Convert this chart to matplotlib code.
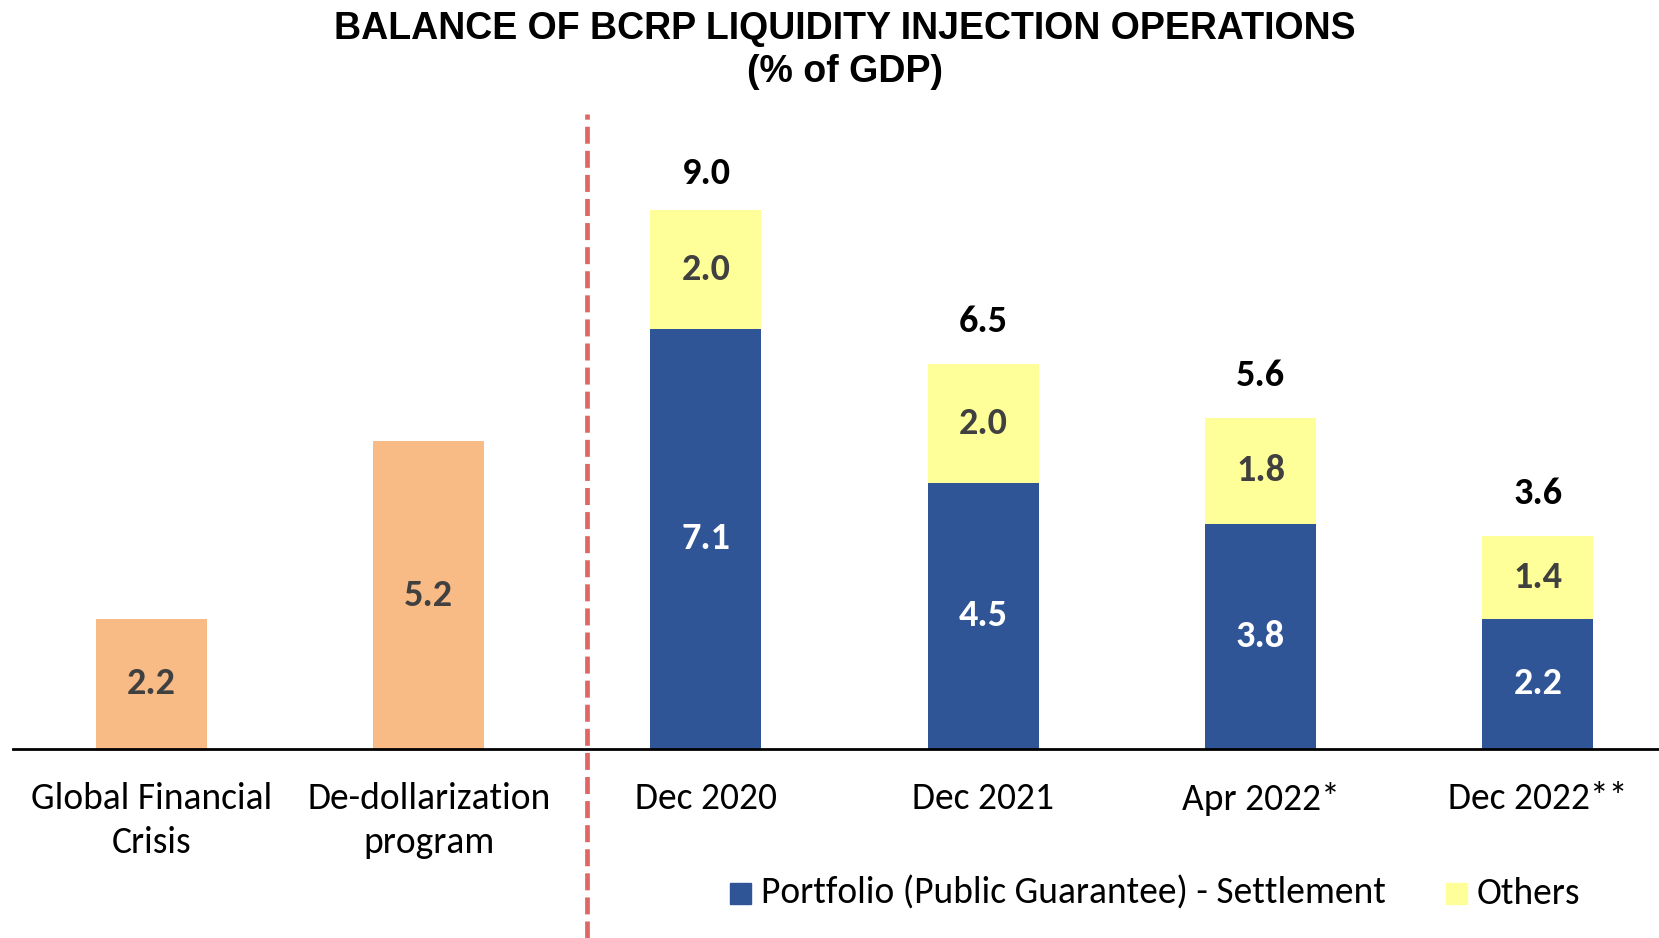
import matplotlib
matplotlib.use("Agg")
import matplotlib.pyplot as plt
from matplotlib.lines import Line2D
from matplotlib.patches import Rectangle
from matplotlib.transforms import blended_transform_factory

categories = ["Global Financial\nCrisis", "De-dollarization\nprogram", "Dec 2020", "Dec 2021", "Apr 2022*", "Dec 2022**"]
historical = [2.2, 5.2, 0, 0, 0, 0]
portfolio = [0, 0, 7.1, 4.5, 3.8, 2.2]
others = [0, 0, 2.0, 2.0, 1.8, 1.4]
totals = [None, None, 9.0, 6.5, 5.6, 3.6]

C_ORANGE = "#F9BB85"
C_BLUE = "#2F5597"
C_YELLOW = "#FFFF99"
TXT_FONT = ["Carlito", "Lato", "DejaVu Sans"]

fig = plt.figure(figsize=(16.59, 9.38), dpi=100)
ax = fig.add_axes([12.7 / 1659, 0.2015, 1 - 12.7 / 1659, 0.6397])
x = list(range(len(categories)))
w = 0.4

hx = [i for i in x if historical[i]]
ax.bar(hx, [historical[i] for i in hx], width=w, color=C_ORANGE, zorder=2)
sx = [i for i in x if portfolio[i]]
ax.bar(sx, [portfolio[i] for i in sx], width=w, color=C_BLUE, zorder=2)
ax.bar(sx, [others[i] for i in sx], width=w, bottom=[portfolio[i] for i in sx], color=C_YELLOW, zorder=2)

LS = 27.5
for i in hx:
    ax.text(i, historical[i] / 2, f"{historical[i]:.1f}", ha="center", va="center",
            fontsize=LS, fontweight="bold", color="#404040", family=TXT_FONT)
for i in sx:
    ax.text(i, portfolio[i] / 2, f"{portfolio[i]:.1f}", ha="center", va="center",
            fontsize=LS, fontweight="bold", color="white", family=TXT_FONT)
    ax.text(i, portfolio[i] + others[i] / 2, f"{others[i]:.1f}", ha="center", va="center",
            fontsize=LS, fontweight="bold", color="#404040", family=TXT_FONT)
    ax.text(i, totals[i] + 0.72, f"{totals[i]:.1f}", ha="center", va="center",
            fontsize=LS, fontweight="bold", color="black", family=TXT_FONT)

ax.set_xlim(-0.5, 5.437)
ax.set_ylim(0, 10.14)
for s in ["top", "right", "left"]:
    ax.spines[s].set_visible(False)
ax.spines["bottom"].set_linewidth(2)
ax.spines["bottom"].set_color("black")
ax.set_yticks([])
ax.set_xticks(x)
ax.set_xticklabels(categories, fontsize=27, family=TXT_FONT, linespacing=1.4)
ax.tick_params(axis="x", length=0, pad=24)

# dashed separator
tr = blended_transform_factory(ax.transData, fig.transFigure)
fig.add_artist(Line2D([1.571, 1.571], [0, 1 - 114 / 938], transform=tr, color="#E06666",
                      lw=3.4, linestyle=(0, (3.6, 1.5)), zorder=5))

# title
fig.text(845 / 1659, 1 - 29 / 938, "BALANCE OF BCRP LIQUIDITY INJECTION OPERATIONS", ha="center", va="center",
         fontsize=27, fontweight="bold", family=["Liberation Sans", "Arial", "DejaVu Sans"])
fig.text(845 / 1659, 1 - 72 / 938, "(% of GDP)", ha="center", va="center",
         fontsize=27, fontweight="bold", family=["Liberation Sans", "Arial", "DejaVu Sans"])

# legend
ly = 1 - 893 / 938
sq = 21
fig.add_artist(Rectangle((730 / 1659, ly - sq / 2 / 938), sq / 1659, sq / 938, transform=fig.transFigure,
                         color=C_BLUE))
fig.text(761 / 1659, ly, "Portfolio (Public Guarantee) - Settlement", ha="left", va="center",
         fontsize=27, family=TXT_FONT)
fig.add_artist(Rectangle((1446 / 1659, ly - sq / 2 / 938), sq / 1659, sq / 938, transform=fig.transFigure,
                         color=C_YELLOW))
fig.text(1477 / 1659, ly, "Others", ha="left", va="center", fontsize=27, family=TXT_FONT)

fig.savefig("out.png", dpi=100)
